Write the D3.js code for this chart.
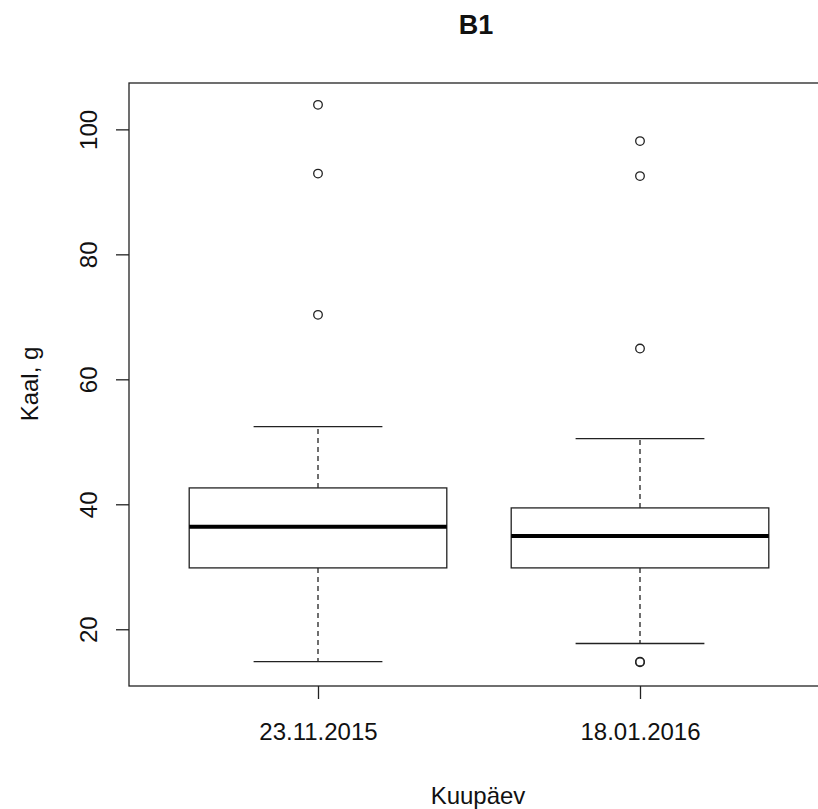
<html>

<head>
    <script src="https://d3js.org/d3.v7.min.js"></script>
    <style>
        body { margin: 0; background: #fff; }
        text { font-family: "Liberation Sans", Arial, sans-serif; fill: #111; }
    </style>
</head>

<body>
    <div id="chart">
        <svg width="818" height="809"></svg>
    </div>
    <script>
        // kokkuvõte lahtritest (loetud pildilt)
        var dates = ["23.11.2015", "18.01.2016"]
        var lowerWhisker = [14.9, 17.8]
        var q1 = [29.9, 29.9]
        var median = [36.5, 35.0]
        var q3 = [42.7, 39.5]
        var upperWhisker = [52.5, 50.6]
        var outliers = [
            [70.4, 93.0, 104.0],
            [14.9, 14.8, 65.0, 92.6, 98.2]
        ]
        var yTicks = [20, 40, 60, 80, 100]

        var svg = d3.select("#chart svg")

        var plotLeft = 129, plotTop = 83, plotBottom = 686, plotRight = 827

        var xScale = d3.scaleLinear()
            .domain([1, 2])
            .range([318, 640])

        var yScale = d3.scaleLinear()
            .domain([11.0, 107.5])
            .range([plotBottom, plotTop])

        var boxW = 0.4, capW = 0.2
        var ink = "#222"
        var fontSize = "24px"

        var boxes = svg.selectAll("g.box")
            .data(dates)
            .enter()
            .append("g")
            .attr("class", "box")

        // whiskers
        boxes.append("line")
            .attr("x1", function(d, i) { return xScale(i + 1) })
            .attr("x2", function(d, i) { return xScale(i + 1) })
            .attr("y1", function(d, i) { return yScale(q3[i]) })
            .attr("y2", function(d, i) { return yScale(upperWhisker[i]) })
            .attr("stroke", ink).attr("stroke-width", 1.3).attr("stroke-dasharray", "5,4")
        boxes.append("line")
            .attr("x1", function(d, i) { return xScale(i + 1) })
            .attr("x2", function(d, i) { return xScale(i + 1) })
            .attr("y1", function(d, i) { return yScale(q1[i]) })
            .attr("y2", function(d, i) { return yScale(lowerWhisker[i]) })
            .attr("stroke", ink).attr("stroke-width", 1.3).attr("stroke-dasharray", "5,4")

        // caps
        boxes.append("line")
            .attr("x1", function(d, i) { return xScale(i + 1 - capW) })
            .attr("x2", function(d, i) { return xScale(i + 1 + capW) })
            .attr("y1", function(d, i) { return yScale(upperWhisker[i]) })
            .attr("y2", function(d, i) { return yScale(upperWhisker[i]) })
            .attr("stroke", ink).attr("stroke-width", 1.3)
        boxes.append("line")
            .attr("x1", function(d, i) { return xScale(i + 1 - capW) })
            .attr("x2", function(d, i) { return xScale(i + 1 + capW) })
            .attr("y1", function(d, i) { return yScale(lowerWhisker[i]) })
            .attr("y2", function(d, i) { return yScale(lowerWhisker[i]) })
            .attr("stroke", ink).attr("stroke-width", 1.3)

        // box
        boxes.append("rect")
            .attr("x", function(d, i) { return xScale(i + 1 - boxW) })
            .attr("width", function(d, i) { return xScale(i + 1 + boxW) - xScale(i + 1 - boxW) })
            .attr("y", function(d, i) { return yScale(q3[i]) })
            .attr("height", function(d, i) { return yScale(q1[i]) - yScale(q3[i]) })
            .attr("fill", "white")
            .attr("stroke", ink).attr("stroke-width", 1.3)

        // median
        boxes.append("line")
            .attr("x1", function(d, i) { return xScale(i + 1 - boxW) })
            .attr("x2", function(d, i) { return xScale(i + 1 + boxW) })
            .attr("y1", function(d, i) { return yScale(median[i]) })
            .attr("y2", function(d, i) { return yScale(median[i]) })
            .attr("stroke", "#000").attr("stroke-width", 4)

        // outliers
        boxes.selectAll("circle")
            .data(function(d, i) {
                return outliers[i].map(function(v) { return { x: i + 1, v: v } })
            })
            .enter()
            .append("circle")
            .attr("cx", function(d) { return xScale(d.x) })
            .attr("cy", function(d) { return yScale(d.v) })
            .attr("r", 4.3)
            .attr("fill", "none")
            .attr("stroke", ink).attr("stroke-width", 1.3)

        // frame
        svg.append("rect")
            .attr("x", plotLeft)
            .attr("y", plotTop)
            .attr("width", plotRight - plotLeft)
            .attr("height", plotBottom - plotTop)
            .attr("fill", "none")
            .attr("stroke", ink).attr("stroke-width", 1.3)

        var yAxis = d3.axisLeft(yScale)
            .tickValues(yTicks)
            .tickSize(13)
        var gy = svg.append("g")
            .attr("transform", "translate(" + plotLeft + ",0)")
            .call(yAxis)
        gy.select(".domain").remove()
        gy.selectAll("line").attr("stroke", ink).attr("stroke-width", 1.3)
        gy.selectAll(".tick").attr("transform", null)
        gy.selectAll(".tick line")
            .attr("y1", function(d) { return yScale(d) })
            .attr("y2", function(d) { return yScale(d) })
        gy.selectAll(".tick text")
            .attr("transform", function(d) { return "translate(-32," + yScale(d) + ") rotate(-90)" })
            .attr("x", 0)
            .attr("y", 0)
            .attr("dy", 0)
            .attr("text-anchor", "middle")
            .style("font-size", fontSize)
            .style("font-family", "Liberation Sans, Arial, sans-serif")
            .attr("fill", "#111")

        var xAxis = d3.axisBottom(xScale)
            .tickValues([1, 2])
            .tickFormat(function(d) { return dates[d - 1] })
            .tickSize(13)
            .tickPadding(0)
        var gx = svg.append("g")
            .attr("transform", "translate(0," + plotBottom + ")")
            .call(xAxis)
        gx.select(".domain").remove()
        gx.selectAll("line").attr("stroke", ink).attr("stroke-width", 1.3)
        gx.selectAll("text")
            .attr("y", 54)
            .attr("dy", 0)
            .style("font-size", fontSize)
            .style("font-family", "Liberation Sans, Arial, sans-serif")
            .attr("fill", "#111")

        svg.append("text")
            .attr("x", 476)
            .attr("y", 34)
            .attr("text-anchor", "middle")
            .style("font-size", "27px")
            .style("font-weight", "bold")
            .text("B1")

        svg.append("text")
            .attr("x", 478)
            .attr("y", 804)
            .attr("text-anchor", "middle")
            .style("font-size", fontSize)
            .text("Kuupäev")

        svg.append("text")
            .attr("transform", "translate(38,384) rotate(-90)")
            .attr("text-anchor", "middle")
            .style("font-size", fontSize)
            .text("Kaal, g")
    </script>

</body>

</html>
